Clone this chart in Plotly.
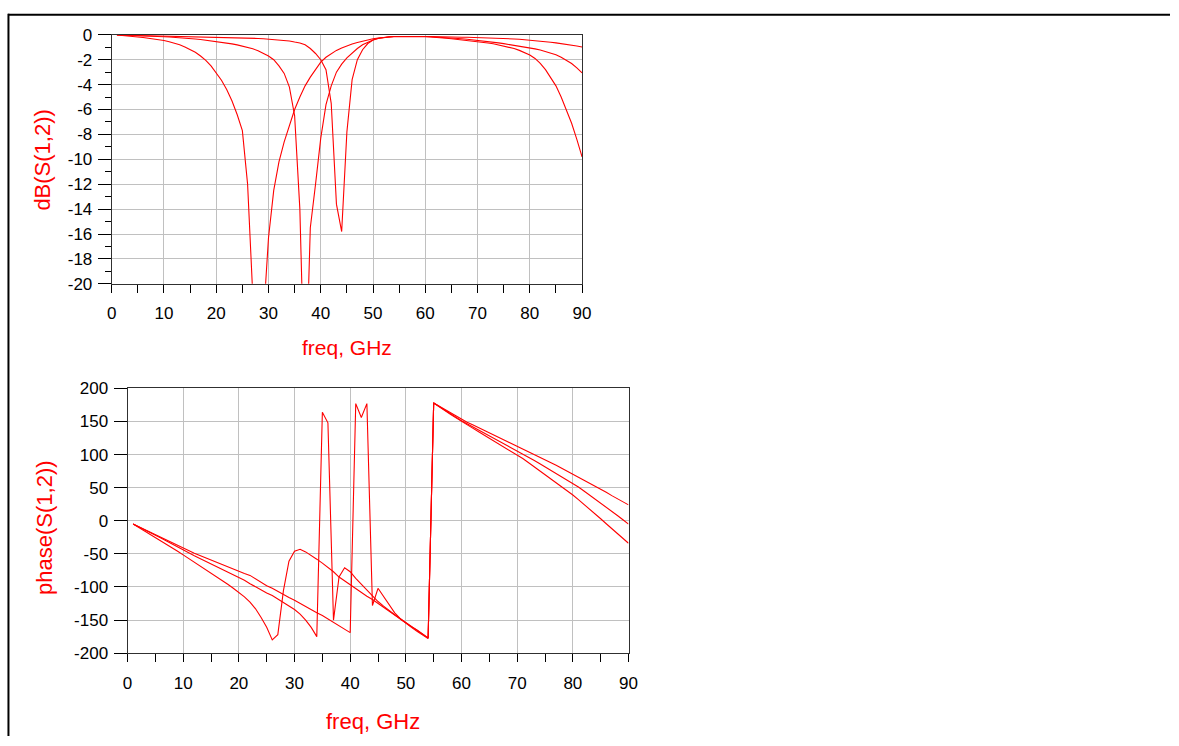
import plotly.graph_objects as go

W, H = 1179, 746

freq = list(range(1, 91))

# dB(S(1,2)) for three swept responses
db_a = [-0.02, -0.05, -0.08, -0.12, -0.17, -0.22, -0.28, -0.33, -0.40, -0.46,
        -0.55, -0.66, -0.80, -0.97, -1.17, -1.40, -1.70, -2.05, -2.50, -3.05,
        -3.65, -4.40, -5.30, -6.40, -7.70, -12.0, -21.5, -30.0, -23.0, -16.3,
        -12.5, -10.2, -8.6, -7.2, -6.0, -5.0, -4.1, -3.4, -2.75, -2.2,
        -1.8, -1.5, -1.25, -1.05, -0.88, -0.74, -0.62, -0.50, -0.40, -0.32,
        -0.26, -0.21, -0.18, -0.16, -0.14, -0.13, -0.13, -0.13, -0.14, -0.15,
        -0.17, -0.19, -0.22, -0.27, -0.32, -0.36, -0.41, -0.45, -0.50, -0.55,
        -0.60, -0.66, -0.72, -0.80, -0.88, -0.98, -1.10, -1.25, -1.42, -1.62,
        -1.90, -2.30, -2.80, -3.40, -4.10, -5.00, -6.00, -7.10, -8.40, -9.80]
db_b = [-0.01, -0.02, -0.03, -0.04, -0.05, -0.07, -0.09, -0.11, -0.13, -0.15,
        -0.18, -0.20, -0.23, -0.26, -0.30, -0.34, -0.38, -0.43, -0.50, -0.55,
        -0.60, -0.66, -0.73, -0.81, -0.90, -1.00, -1.12, -1.28, -1.50, -1.70,
        -2.00, -2.50, -3.10, -4.20, -6.50, -14.0, -30.0, -15.5, -12.0, -8.3,
        -5.6, -4.1, -3.0, -2.35, -1.85, -1.45, -1.10, -0.80, -0.60, -0.42,
        -0.30, -0.22, -0.17, -0.14, -0.13, -0.13, -0.13, -0.13, -0.13, -0.14,
        -0.15, -0.17, -0.19, -0.22, -0.25, -0.28, -0.32, -0.36, -0.40, -0.45,
        -0.50, -0.55, -0.60, -0.65, -0.71, -0.77, -0.83, -0.90, -0.97, -1.05,
        -1.13, -1.22, -1.33, -1.45, -1.60, -1.80, -2.05, -2.30, -2.65, -3.05]
db_c = [-0.01, -0.02, -0.03, -0.03, -0.04, -0.05, -0.05, -0.06, -0.07, -0.08,
        -0.08, -0.09, -0.10, -0.11, -0.11, -0.12, -0.13, -0.14, -0.15, -0.16,
        -0.17, -0.18, -0.19, -0.20, -0.22, -0.24, -0.26, -0.29, -0.32, -0.35,
        -0.38, -0.42, -0.45, -0.50, -0.58, -0.65, -0.80, -1.10, -1.50, -2.00,
        -2.80, -5.50, -13.6, -15.8, -7.8, -3.6, -2.0, -1.2, -0.70, -0.42,
        -0.28, -0.20, -0.16, -0.14, -0.13, -0.13, -0.13, -0.13, -0.13, -0.13,
        -0.14, -0.14, -0.15, -0.16, -0.17, -0.18, -0.19, -0.20, -0.21, -0.22,
        -0.23, -0.25, -0.26, -0.28, -0.30, -0.32, -0.33, -0.36, -0.39, -0.42,
        -0.46, -0.50, -0.55, -0.60, -0.65, -0.70, -0.76, -0.82, -0.90, -0.98]

# phase(S(1,2)) in degrees
ph_a = [-5, -10, -15, -20.5, -25.5, -31, -36, -41, -46, -51.5,
        -57, -62, -67.5, -73, -78.5, -84, -90, -96, -102, -108,
        -115, -123, -133, -146, -161, -180, -172, -106, -61, -46,
        -43, -47, -52, -58, -64, -70, -77, -85, -91, -97,
        -103, -109, -114, -119, -125, -131, -137, -142, -148, -154,
        -160, -165, -171, -177, 178, 172, 166.5, 161, 155.5, 150,
        145, 140, 135, 130, 125, 120, 115, 110, 105, 100,
        94, 88, 82, 76, 70, 64, 58, 52, 45.5, 39,
        32, 25, 18, 10.5, 3, -4.5, -12, -19, -26.5, -34]
ph_b = [-5, -9, -13, -17, -21.5, -26, -30.5, -35, -40, -45,
        -49, -53, -57, -61, -65, -69, -73, -77, -81, -85,
        -90, -95, -100, -104.5, -109, -113, -118, -123, -128, -134,
        -141, -150, -161, -175, 164, 148, -150, -85, -71, -77,
        -87, -96, -105, -114, -122, -129, -136, -142, -148, -154,
        -160, -166, -171, -177, 178, 172.5, 167, 161.5, 156, 151,
        146.5, 142, 137.5, 133, 128.5, 124, 119.5, 115, 110.5, 106,
        101, 96, 91.5, 86.5, 81.5, 76.5, 72, 67, 62, 57,
        51, 45, 39, 33, 27, 21, 14.5, 8, 1.5, -5]
ph_c = [-5, -9, -13, -17, -21, -25, -29, -33, -37.5, -42,
        -45.5, -49, -52.5, -56, -59, -62.5, -66, -69, -72.5, -76,
        -79.5, -82.5, -88, -93, -98, -102, -107, -111, -116, -120,
        -125, -129, -134, -139, -143, -148, -153, -158, -163, -169,
        177, 156, 177, -128, -102, -115, -128, -139, -148, -155,
        -161, -167, -172, -178, 178, 173, 168, 163, 158, 153,
        149, 145, 141, 137, 133, 129, 125, 121, 117, 113,
        109, 105, 101, 96.5, 92, 88, 84, 79.5, 75, 71,
        66.5, 62, 57, 52.5, 48, 43, 38, 33.5, 28.5, 24]

x_ticks = [0, 10, 20, 30, 40, 50, 60, 70, 80, 90]
db_ticks = [0, -2, -4, -6, -8, -10, -12, -14, -16, -18, -20]
ph_ticks = [200, 150, 100, 50, 0, -50, -100, -150, -200]

RED = "#ff0000"
FONT = "Liberation Sans, Arial, sans-serif"

def px(x):
    return x / W

def py(y):
    return 1 - y / H

def labels(vals):
    return [str(v) for v in vals]   # plain hyphen minus like the original

fig = go.Figure()
for ys in (db_a, db_b, db_c):
    fig.add_trace(go.Scatter(x=freq, y=ys, mode="lines", xaxis="x", yaxis="y",
                             line=dict(color=RED, width=1.1), showlegend=False,
                             hoverinfo="skip"))
for ys in (ph_a, ph_b, ph_c):
    fig.add_trace(go.Scatter(x=freq, y=ys, mode="lines", xaxis="x2", yaxis="y2",
                             line=dict(color=RED, width=1.1), showlegend=False,
                             hoverinfo="skip"))

tickfont = dict(family=FONT, size=17, color="black")
common_x = dict(range=[0, 90], tickvals=x_ticks, ticktext=labels(x_ticks),
                ticks="outside", ticklen=8,
                tickcolor="black", tickwidth=1, showgrid=True, gridcolor="#c0c0c0",
                gridwidth=1, zeroline=False, showline=True, linecolor="#303030",
                linewidth=1, mirror=True, tickfont=tickfont, ticklabelstandoff=6,
                minor=dict(dtick=5, tick0=0, ticks="outside", ticklen=8,
                           tickcolor="black", showgrid=False))
common_y = dict(ticks="outside", ticklen=13, tickcolor="black", tickwidth=1,
                showgrid=True, gridcolor="#c0c0c0", gridwidth=1, zeroline=False,
                showline=True, linecolor="#303030", linewidth=1, mirror=True,
                tickfont=tickfont, ticklabelstandoff=2)

fig.update_layout(
    width=W, height=H,
    margin=dict(l=0, r=0, t=0, b=0),
    paper_bgcolor="white", plot_bgcolor="white",
    xaxis=dict(domain=[px(108), px(584)], anchor="y", **common_x),
    yaxis=dict(domain=[py(282), py(26.5)], anchor="x", range=[-20, 0],
               tickvals=db_ticks, ticktext=labels(db_ticks),
               minor=dict(dtick=1, tick0=0, ticks="outside", ticklen=6,
                          tickcolor="black", showgrid=False),
               **common_y),
    xaxis2=dict(domain=[px(124), px(631)], anchor="y2", **common_x),
    yaxis2=dict(domain=[py(661), py(389.3)], anchor="x2", range=[-200, 200],
                tickvals=ph_ticks, ticktext=labels(ph_ticks),
                **common_y),
    showlegend=False,
)

annots = [
    dict(text="freq, GHz", x=px(346), y=py(347), size=21),
    dict(text="freq, GHz", x=px(372), y=py(731), size=22),
    dict(text="dB(S(1,2))", x=px(37), y=py(155), textangle=-90, size=22),
    dict(text="phase(S(1,2))", x=px(40), y=py(532), textangle=-90, size=22),
]
for a in annots:
    size = a.pop("size")
    fig.add_annotation(xref="paper", yref="paper", showarrow=False,
                       xanchor="center", yanchor="middle",
                       font=dict(family=FONT, size=size, color=RED), **a)

# outer frame (top and left edges)
fig.add_shape(type="line", xref="paper", yref="paper", x0=px(3), x1=1,
              y0=py(6), y1=py(6), line=dict(color="black", width=2))
fig.add_shape(type="line", xref="paper", yref="paper", x0=px(3.5), x1=px(3.5),
              y0=py(5), y1=0, line=dict(color="black", width=2))

fig.write_html("out.html",
               post_script="document.body.style.margin='0';"
                           "document.body.style.padding='0';"
                           "document.documentElement.style.overflow='hidden';")
